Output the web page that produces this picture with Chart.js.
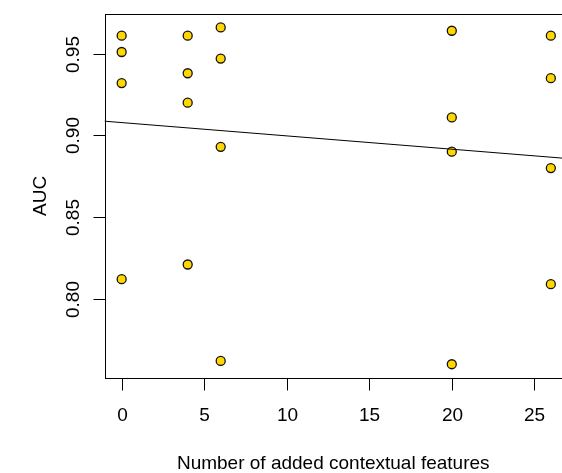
<!DOCTYPE html>
<html>
<head>
<meta charset="utf-8">
<script src="https://cdn.jsdelivr.net/npm/chart.js@4"></script>
<style>
  html, body { margin: 0; padding: 0; background: #fff; overflow: hidden; }
  #wrap { width: 580px; height: 473px; }
</style>
</head>
<body>
<div id="wrap"><canvas id="aucChart" width="580" height="473"></canvas></div>
<script>
// AUC per model, grouped by how many contextual features were added
const featureCounts = [0, 0, 0, 0, 4, 4, 4, 4, 6, 6, 6, 6, 20, 20, 20, 20, 26, 26, 26, 26];
const aucValues = [
  0.961, 0.951, 0.932, 0.812,
  0.961, 0.938, 0.920, 0.821,
  0.966, 0.947, 0.893, 0.762,
  0.964, 0.911, 0.890, 0.760,
  0.961, 0.935, 0.880, 0.809
];
const xTicks = [0, 5, 10, 15, 20, 25];
const yTicks = [0.80, 0.85, 0.90, 0.95];
const yTickLabels = ["0.80", "0.85", "0.90", "0.95"];

const FONT = '19px "Liberation Sans", Arial, Helvetica, sans-serif';

// least squares fit, drawn across the whole plot region like abline(lm(...))
function linearFit(xs, ys) {
  const n = xs.length;
  const mx = xs.reduce((a, b) => a + b, 0) / n;
  const my = ys.reduce((a, b) => a + b, 0) / n;
  let sxy = 0, sxx = 0;
  for (let i = 0; i < n; i++) {
    sxy += (xs[i] - mx) * (ys[i] - my);
    sxx += (xs[i] - mx) * (xs[i] - mx);
  }
  const slope = sxy / sxx;
  return { slope, intercept: my - slope * mx };
}

// pad data range by 4% on each side
function paddedRange(vals) {
  const lo = Math.min(...vals), hi = Math.max(...vals);
  const pad = (hi - lo) * 0.04;
  return [lo - pad, hi + pad];
}

const [xMin, xMax] = paddedRange(featureCounts);
const [yMin, yMax] = paddedRange(aucValues);
const fit = linearFit(featureCounts, aucValues);
const fitLine = [xMin, xMax].map((x) => ({ x, y: fit.intercept + fit.slope * x }));

const basePlotAxes = {
  id: "basePlotAxes",
  afterDraw(chart) {
    const { ctx, chartArea: a, scales } = chart;
    const xs = scales.x, ys = scales.y;
    ctx.save();
    ctx.strokeStyle = "#000";
    ctx.lineWidth = 1;
    ctx.strokeRect(Math.round(a.left) + 0.5, Math.round(a.top) + 0.5,
      Math.round(a.right - a.left), Math.round(a.bottom - a.top));

    ctx.fillStyle = "#000";
    ctx.font = FONT;

    // x axis ticks and labels
    ctx.textAlign = "center";
    ctx.textBaseline = "alphabetic";
    const xb = Math.round(a.bottom) + 0.5;
    ctx.beginPath();
    ctx.moveTo(xs.getPixelForValue(xTicks[0]), xb);
    ctx.lineTo(xs.getPixelForValue(xTicks[xTicks.length - 1]), xb);
    xTicks.forEach((t) => {
      const px = Math.round(xs.getPixelForValue(t)) + 0.5;
      ctx.moveTo(px, xb);
      ctx.lineTo(px, xb + 12);
      ctx.fillText(String(t), px, 421);
    });
    ctx.stroke();

    // y axis ticks and rotated labels
    const yl = Math.round(a.left) + 0.5;
    ctx.beginPath();
    ctx.moveTo(yl, ys.getPixelForValue(yTicks[0]));
    ctx.lineTo(yl, ys.getPixelForValue(yTicks[yTicks.length - 1]));
    yTicks.forEach((t, i) => {
      const py = Math.round(ys.getPixelForValue(t)) + 0.5;
      ctx.moveTo(yl, py);
      ctx.lineTo(yl - 12, py);
      ctx.save();
      ctx.translate(79, py);
      ctx.rotate(-Math.PI / 2);
      ctx.fillText(yTickLabels[i], 0, 0);
      ctx.restore();
    });
    ctx.stroke();

    // axis titles
    ctx.fillText("Number of added contextual features", (a.left + a.right) / 2 - 3, 468.5);
    ctx.save();
    ctx.translate(46, (a.top + a.bottom) / 2);
    ctx.rotate(-Math.PI / 2);
    ctx.fillText("AUC", 0, 0);
    ctx.restore();
    ctx.restore();
  }
};

new Chart(document.getElementById("aucChart"), {
  type: "scatter",
  data: {
    datasets: [
      {
        label: "fit",
        type: "line",
        data: fitLine,
        borderColor: "#000",
        borderWidth: 1,
        pointRadius: 0,
        fill: false,
        order: 0
      },
      {
        label: "AUC",
        data: featureCounts.map((x, i) => ({ x, y: aucValues[i] })),
        backgroundColor: "#FFD700",
        borderColor: "#111",
        borderWidth: 1.3,
        pointRadius: 4.5,
        order: 1
      }
    ]
  },
  options: {
    responsive: false,
    animation: false,
    events: [],
    layout: { padding: { left: 104.5, top: 14, right: 12, bottom: 95.3 } },
    plugins: { legend: { display: false }, tooltip: { enabled: false } },
    scales: {
      x: { type: "linear", min: xMin, max: xMax, display: false },
      y: { type: "linear", min: yMin, max: yMax, display: false }
    }
  },
  plugins: [basePlotAxes]
});
</script>
</body>
</html>
